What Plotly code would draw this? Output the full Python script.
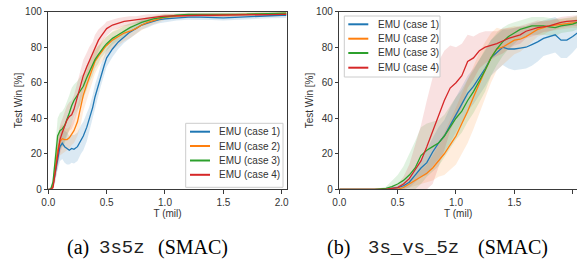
import plotly.graph_objects as go

W, H = 577, 265

# ---------------- data ----------------
series_names = ["EMU (case 1)", "EMU (case 2)", "EMU (case 3)", "EMU (case 4)"]
colors = ["#1f77b4", "#ff7f0e", "#2ca02c", "#d62728"]
fills = ["rgba(31,119,180,0.16)", "rgba(255,127,14,0.14)", "rgba(44,160,44,0.14)", "rgba(214,39,40,0.14)"]

# (a) 3s5z
t_a = [0, 0.02, 0.04, 0.06, 0.08, 0.1, 0.12, 0.14, 0.16, 0.18, 0.2, 0.22, 0.25, 0.28, 0.3,
       0.33, 0.35, 0.38, 0.4, 0.43, 0.45, 0.48, 0.5, 0.55, 0.6, 0.65, 0.7, 0.75, 0.8, 0.85,
       0.9, 0.95, 1.0, 1.1, 1.2, 1.3, 1.4, 1.5, 1.6, 1.7, 1.8, 1.9, 2.0, 2.04]
a_case1 = [0, 0, 2, 10, 18, 24, 26, 24, 23, 22, 23, 22.5, 24, 28, 30, 35, 39, 46, 52, 59, 64, 70,
           74, 79, 83, 86, 88.5, 90.5, 92.5, 93.5, 94.5, 95.5, 96, 96.5, 97, 97, 96.8, 96.5,
           96.8, 97.2, 97.5, 97.8, 98, 98]
a_case2 = [0, 0, 2, 12, 22, 27, 28.5, 28, 28, 29, 31, 33, 38, 46, 53, 59, 63, 68, 72, 75, 77,
           79.5, 81, 84, 86, 88, 89, 90.5, 92.5, 94, 95, 96, 97, 97.5, 98, 98, 98, 98.2, 98.3,
           98.5, 98.6, 98.8, 99, 99]
a_case3 = [0, 0, 4, 18, 30, 33, 34, 36, 39, 43, 47, 50, 53, 56, 58, 63, 66, 70, 73, 76, 78,
           80.5, 82, 85, 87, 89, 91, 92.5, 94, 95, 96, 96.5, 97, 98, 98.5, 98.5, 98.5, 98.3,
           98.4, 98.6, 98.8, 99, 99.2, 99.2]
a_case4 = [0, 0, 1, 10, 20, 28, 32, 36, 39, 41, 42, 45, 52, 59, 64, 69, 72, 76, 80, 84, 86, 89,
           90.5, 92.5, 93.5, 94.5, 95, 95.5, 96, 96.5, 97, 97.2, 97.5, 97.8, 98, 98, 98, 98,
           98.1, 98.2, 98.3, 98.4, 98.5, 98.5]
a_std1 = [0, 0, 2, 5, 7, 8, 9, 9, 9, 8, 8, 8, 8, 8, 8, 8, 7, 7, 7, 6, 6, 5, 5, 4.5, 4, 3.5, 3,
          3, 2.5, 2.5, 2, 2, 2, 1.5, 1.5, 1.5, 1.5, 1.5, 1.5, 1.5, 1.5, 1.5, 1.5, 1.5]
a_std2 = [0, 0, 2, 6, 8, 8, 8, 7, 6, 6, 6, 7, 8, 9, 9, 8, 8, 7, 7, 6, 6, 6, 5, 5, 5, 4.5, 4,
          3.5, 3, 2.5, 2, 2, 1.5, 1, 1, 1, 1, 1, 1, 1, 1, 1, 1, 1]
a_std3 = [0, 0, 3, 8, 10, 10, 10, 10, 10, 10, 10, 9, 8, 8, 7, 7, 6, 6, 5, 5, 4, 4, 4, 3.5, 3,
          3, 2.5, 2, 2, 2, 1.5, 1.5, 1.5, 1, 1, 1, 1, 1, 1, 1, 1, 1, 1, 1]
a_std4 = [0, 0, 2, 6, 8, 8, 8, 8, 8, 8, 8, 8, 9, 9, 9, 8, 8, 7, 7, 6, 5, 4, 4, 3, 3, 2.5, 2.5,
          2, 2, 2, 1.5, 1.5, 1.5, 1, 1, 1, 1, 1, 1, 1, 1, 1, 1, 1]

# (b) 3s_vs_5z
t_b = [0, 0.3, 0.4, 0.45, 0.5, 0.55, 0.6, 0.65, 0.7, 0.75, 0.8, 0.85, 0.9, 0.95, 1.0, 1.05,
       1.1, 1.15, 1.2, 1.25, 1.3, 1.35, 1.4, 1.45, 1.5, 1.55, 1.6, 1.65, 1.7, 1.75, 1.8, 1.85,
       1.9, 1.95, 2.0, 2.04]
b_case1 = [0, 0, 0, 0.5, 1, 2, 4, 8, 12, 15, 21, 26, 30, 36, 42, 48, 54, 58, 63, 68, 74, 77,
           80, 79, 79, 79.5, 80, 81.5, 83, 85, 86, 87, 84, 84, 86, 88]
b_case2 = [0, 0, 0, 0, 0, 1, 3, 5, 7, 9, 12, 16, 20, 25, 30, 37, 44, 52, 60, 67, 74, 79, 80,
           82, 84, 84.5, 86, 88, 90, 91, 92, 92.5, 93, 93.5, 94, 94]
b_case3 = [0, 0, 0.5, 1.5, 3, 5, 8, 12, 19, 22, 24, 26, 30, 35, 40, 44, 50, 55, 61, 67, 74,
           79, 83, 86, 88, 90, 91, 92, 92, 92, 91.5, 91, 92, 92.5, 93, 94]
b_case4 = [0, 0, 0, 0.5, 1, 3, 6, 11, 16, 24, 33, 42, 50, 57, 60, 64, 72, 74, 78, 80, 81, 82,
           83.5, 85, 86, 87, 89, 90, 91, 91.5, 92, 93, 94, 94.5, 95, 95]
b_std1 = [0, 0, 0, 0.5, 1, 2, 3, 4, 5, 7, 8, 9, 9, 10, 10, 10, 10, 10, 10, 10, 10, 10, 10, 11,
          12, 12, 12, 12, 11, 10, 10, 10, 10, 10, 9, 8]
b_std2 = [0, 0, 0, 0, 0.5, 1, 2, 3, 4, 5, 7, 9, 12, 14, 16, 17, 18, 18, 17, 16, 14, 12, 10, 9,
          8, 7, 6, 5, 4, 4, 3, 3, 3, 3, 3, 3]
b_std3 = [0, 0, 1, 3, 5, 8, 12, 15, 16, 15, 14, 13, 12, 12, 12, 12, 12, 12, 12, 12, 10, 9, 8,
          7, 6, 5, 5, 5, 5, 5, 5, 5, 4, 4, 4, 4]
b_std4 = [0, 0, 0, 1, 2, 4, 8, 14, 20, 26, 30, 30, 28, 24, 20, 18, 15, 12, 10, 9, 8, 7, 7, 6,
          5, 5, 4, 4, 4, 3, 3, 3, 3, 3, 3, 3]

x_ticks = [0.0, 0.5, 1.0, 1.5, 2.0]
y_ticks = [0, 20, 40, 60, 80, 100]
captions = [("(a)", "3s5z", "(SMAC)"), ("(b)", "3s_vs_5z", "(SMAC)")]

panels = [
    (t_a, [a_case1, a_case2, a_case3, a_case4], [a_std1, a_std2, a_std3, a_std4], "x", "y"),
    (t_b, [b_case1, b_case2, b_case3, b_case4], [b_std1, b_std2, b_std3, b_std4], "x2", "y2"),
]

fig = go.Figure()
for t, means, stds, xa, ya in panels:
    for i, (m, s) in enumerate(zip(means, stds)):
        up = [min(v + d, 100) for v, d in zip(m, s)]
        lo = [max(v - d, 0) for v, d in zip(m, s)]
        fig.add_trace(go.Scatter(x=t + t[::-1], y=up + lo[::-1], fill="toself",
                                 fillcolor=fills[i], line=dict(width=0), mode="lines",
                                 hoverinfo="skip", showlegend=False, xaxis=xa, yaxis=ya))
    for i, m in enumerate(means):
        fig.add_trace(go.Scatter(x=t, y=m, mode="lines", name=series_names[i],
                                 line=dict(color=colors[i], width=1.3), showlegend=False,
                                 xaxis=xa, yaxis=ya))

# pixel helpers (layout only)
def px(v):
    return v / W

def py(v):
    return 1 - v / H

FONT = "Liberation Sans"
frame = "#3a3a3a"
axis_common = dict(showgrid=False, zeroline=False, showline=True,
                   linecolor=frame, linewidth=1, ticks="outside", ticklen=3.5,
                   tickwidth=1, tickcolor=frame, automargin=False,
                   tickfont=dict(family=FONT, size=10, color="#333"))
title_font = dict(family=FONT, size=10, color="#333")

y_dom = [py(189.3), py(11.7)]
fig.update_layout(
    width=W, height=H, margin=dict(l=0, r=0, t=0, b=0, autoexpand=False),
    paper_bgcolor="white", plot_bgcolor="white", showlegend=False,
    xaxis=dict(domain=[px(48.3), px(286.7)], range=[0, 2.043], tickvals=x_ticks,
               ticktext=[f"{v:.1f}" for v in x_ticks], anchor="y", mirror=True,
               title=dict(text="T (mil)", font=title_font, standoff=3), **axis_common),
    yaxis=dict(domain=y_dom, range=[0, 100], tickvals=y_ticks, anchor="x", mirror=True,
               title=dict(text="Test Win [%]", font=title_font, standoff=0), **axis_common),
    xaxis2=dict(domain=[px(339.3), 1.0], range=[0, 2.037], tickvals=x_ticks,
                ticktext=[f"{v:.1f}" for v in x_ticks], anchor="y2", mirror=True,
                title=dict(text="T (mil)", font=title_font, standoff=3), **axis_common),
    yaxis2=dict(domain=y_dom, range=[0, 100], tickvals=y_ticks, anchor="x2", mirror=False,
                title=dict(text="Test Win [%]", font=title_font, standoff=0), **axis_common),
)

# manual legends (matplotlib-like)
shapes, annotations = [], []
legend_boxes = [
    dict(x0=185.7, x1=283.0, y0=123.3, y1=187.3, lx0=190, lx1=210, tx=217, ys=[131.7, 146.0, 160.5, 174.8]),
    dict(x0=344.3, x1=440.0, y0=16.0, y1=77.0, lx0=348.3, lx1=368.3, tx=376, ys=[24.3, 38.7, 53.0, 67.7]),
]
for lb in legend_boxes:
    shapes.append(dict(type="rect", xref="paper", yref="paper", x0=px(lb["x0"]), x1=px(lb["x1"]),
                       y0=py(lb["y1"]), y1=py(lb["y0"]), line=dict(color="#cccccc", width=1),
                       fillcolor="rgba(255,255,255,0.85)", layer="above"))
    for i, yy in enumerate(lb["ys"]):
        shapes.append(dict(type="line", xref="paper", yref="paper", x0=px(lb["lx0"]), x1=px(lb["lx1"]),
                           y0=py(yy), y1=py(yy), line=dict(color=colors[i], width=2), layer="above"))
        annotations.append(dict(xref="paper", yref="paper", x=px(lb["tx"]), y=py(yy), text=series_names[i],
                                showarrow=False, xanchor="left", yanchor="middle",
                                font=dict(family=FONT, size=10, color="#333")))

SERIF = dict(family="Liberation Serif", size=20, color="black")
MONO = dict(family="Liberation Mono", size=19, color="#222")
# (left of "(x)", centre of mono word, left of "(SMAC)")
cap_pos = [(62, 121.5, 156), (321.7, 413.3, 476)]
for (xa_, xm_, xb_), (a, mono, b) in zip(cap_pos, captions):
    for xx, txt, f, anc in [(xa_ + 3, a, SERIF, "left"), (xm_, mono, MONO, "center"), (xb_, b, SERIF, "left")]:
        annotations.append(dict(xref="paper", yref="paper", x=px(xx), y=py(247.5), xanchor=anc,
                                yanchor="middle", showarrow=False, text=txt, font=f))

fig.update_layout(shapes=shapes, annotations=annotations)
fig.write_html("out.html", config={"displayModeBar": False},
               post_script="document.body.style.margin='0';document.body.style.padding='0';")
